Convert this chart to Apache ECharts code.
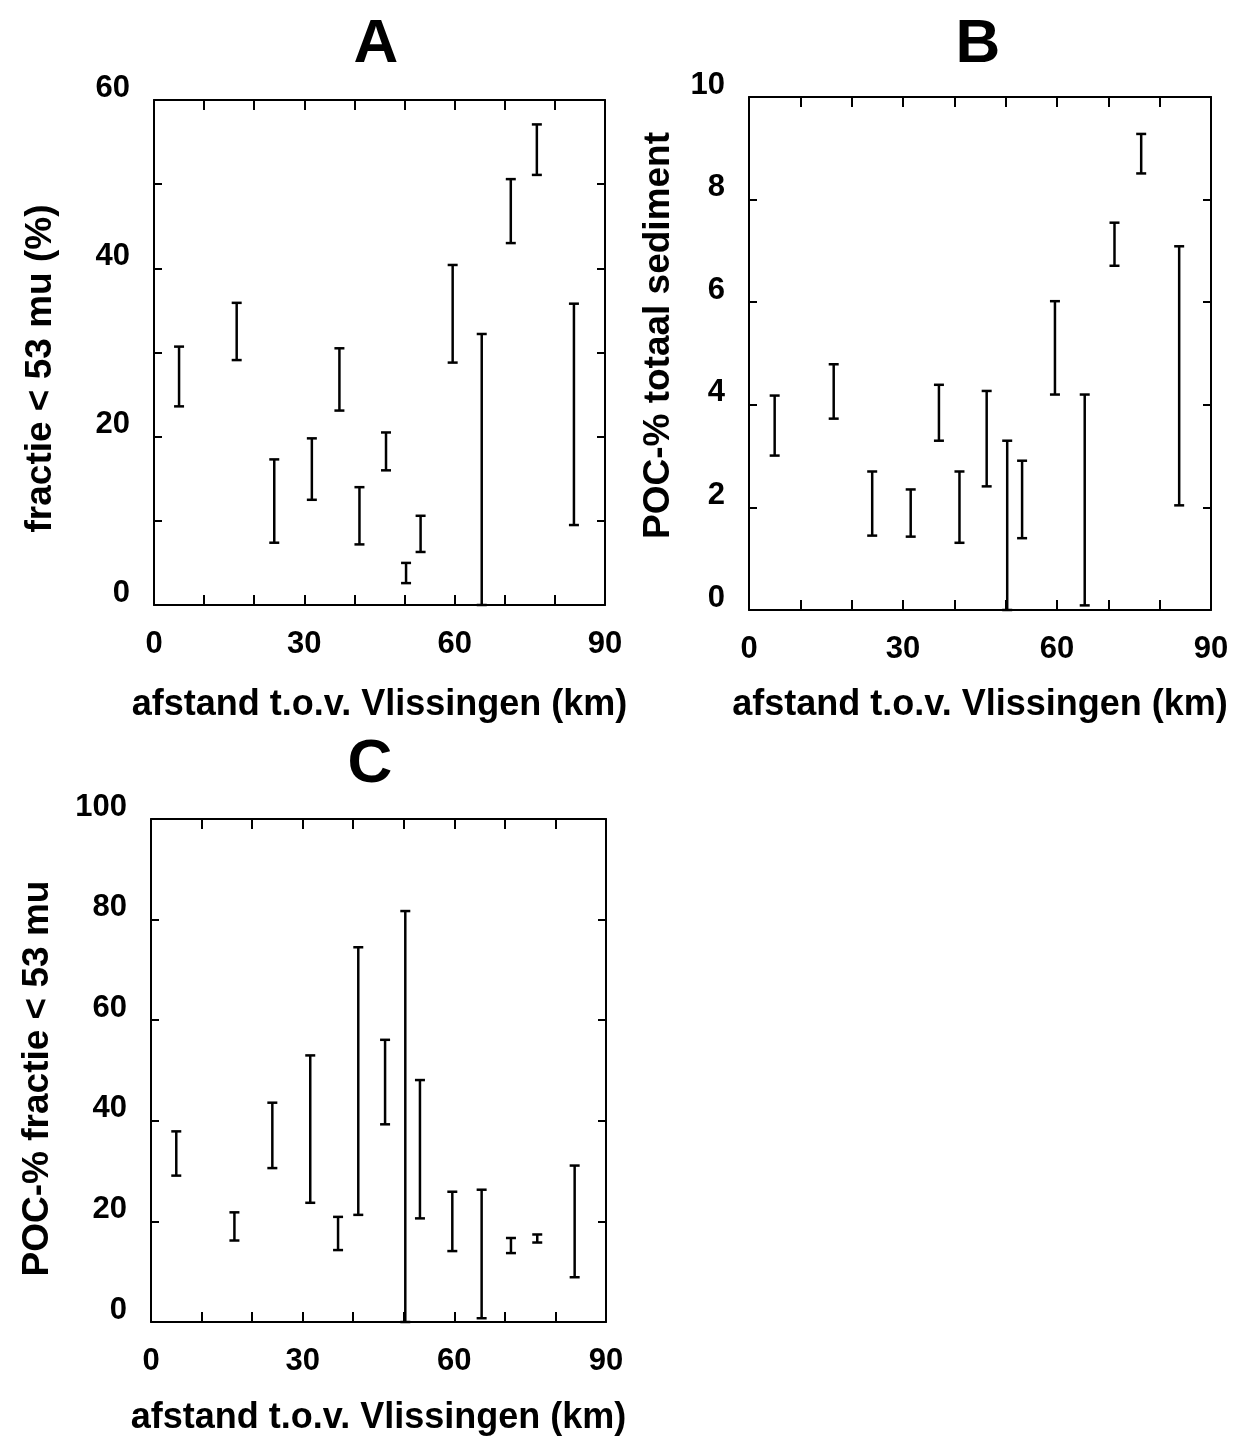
<!DOCTYPE html>
<html>
<head>
<meta charset="utf-8">
<title>Slib en POC Westerschelde</title>
<script src="https://cdn.jsdelivr.net/npm/echarts@6/dist/echarts.min.js"></script>
<style>
  html, body { margin: 0; padding: 0; background: #fff; }
  #chart { width: 1240px; height: 1437px; }
</style>
</head>
<body>
<div id="chart"></div>
<script>
// afstand van elk station t.o.v. Vlissingen (km)
const afstand = [5, 16.5, 24, 31.5, 37, 41, 46.3, 50.3, 53.2, 59.6, 65.4, 71.2, 76.4, 83.8];

// A: fractie < 53 mu (%), onder- en bovengrens
const fractieLaag = [23.6, 29.1, 7.4, 12.5, 23.1, 7.2, 16.0, 2.6, 6.3, 28.8, 0, 43.0, 51.1, 9.5];
const fractieHoog = [30.7, 35.9, 17.3, 19.8, 30.5, 14.0, 20.5, 5.0, 10.6, 40.4, 32.2, 50.6, 57.1, 35.8];

// B: POC-% totaal sediment
const pocLaag = [3.01, 3.73, 1.45, 1.43, 3.30, 1.31, 2.41, 0, 1.40, 4.20, 0.09, 6.71, 8.51, 2.04];
const pocHoog = [4.18, 4.79, 2.70, 2.35, 4.39, 2.70, 4.27, 3.30, 2.91, 6.02, 4.20, 7.55, 9.28, 7.09];

// C: POC-% fractie < 53 mu
const fijnLaag = [29.1, 16.2, 30.6, 23.7, 14.3, 21.3, 39.3, 0, 20.6, 14.1, 0.75, 13.7, 15.8, 8.9];
const fijnHoog = [37.9, 21.8, 43.6, 53.0, 20.9, 74.5, 56.1, 81.7, 48.1, 25.9, 26.3, 16.7, 17.4, 31.1];

const xTicks = [0, 30, 60, 90];

const FONT = "'Liberation Sans', Arial, sans-serif";
const chart = echarts.init(document.getElementById('chart'), null, { renderer: 'canvas' });

function rows(lo, hi) {
  return afstand.map((x, i) => [x, lo[i], hi[i]]);
}

// verticale foutbalk met dwarsstreepjes
function errorBar(params, api) {
  const x = api.value(0);
  const lo = api.coord([x, api.value(1)]);
  const hi = api.coord([x, api.value(2)]);
  const w = 5;
  const style = { stroke: '#000', lineWidth: 2.5 };
  return {
    type: 'group',
    children: [
      { type: 'line', shape: { x1: lo[0], y1: lo[1], x2: hi[0], y2: hi[1] }, style: style },
      { type: 'line', shape: { x1: hi[0] - w, y1: hi[1], x2: hi[0] + w, y2: hi[1] }, style: style },
      { type: 'line', shape: { x1: lo[0] - w, y1: lo[1], x2: lo[0] + w, y2: lo[1] }, style: style }
    ]
  };
}

const lineStyle = { color: '#000', width: 2 };

function xAxes(grid, nameGap) {
  const base = {
    type: 'value', gridIndex: grid, min: 0, max: 90, interval: 10,
    axisLine: { show: true, onZero: false, lineStyle: lineStyle },
    axisTick: { show: true, inside: true, length: 10, lineStyle: lineStyle },
    splitLine: { show: false }
  };
  return [
    Object.assign({}, base, {
      position: 'bottom',
      name: 'afstand t.o.v. Vlissingen (km)',
      nameLocation: 'middle',
      nameGap: nameGap,
      nameTextStyle: { fontFamily: FONT, fontSize: 36, fontWeight: 'bold', color: '#000' },
      axisLabel: {
        margin: 24, fontFamily: FONT, fontSize: 31, fontWeight: 'bold', color: '#000',
        showMinLabel: true, showMaxLabel: true,
        formatter: v => (xTicks.indexOf(v) >= 0 ? String(v) : '')
      }
    }),
    Object.assign({}, base, { position: 'top', axisLabel: { show: false } })
  ];
}

function yAxes(grid, max, interval, labels, name, nameGap, namePad) {
  const base = {
    type: 'value', gridIndex: grid, min: 0, max: max, interval: interval,
    axisLine: { show: true, onZero: false, lineStyle: lineStyle },
    axisTick: { show: true, inside: true, length: 8, lineStyle: lineStyle },
    splitLine: { show: false }
  };
  return [
    Object.assign({}, base, {
      position: 'left',
      name: name,
      nameLocation: 'middle',
      nameGap: nameGap,
      nameRotate: 90,
      nameTextStyle: { fontFamily: FONT, fontSize: 37, fontWeight: 'bold', color: '#000', padding: namePad },
      axisLabel: {
        margin: 24, fontFamily: FONT, fontSize: 31, fontWeight: 'bold', color: '#000',
        verticalAlign: 'bottom', lineHeight: 24,
        showMinLabel: true, showMaxLabel: true,
        formatter: v => (labels.indexOf(v) >= 0 ? String(v) : '')
      }
    }),
    Object.assign({}, base, { position: 'right', axisLabel: { show: false } })
  ];
}

function panelTitle(text, x, y) {
  return {
    type: 'text', x: x, y: y,
    style: { text: text, font: 'bold 62px ' + FONT, fill: '#000', textAlign: 'center', textVerticalAlign: 'middle' }
  };
}

const option = {
  backgroundColor: '#ffffff',
  animation: false,
  grid: [
    { left: 154, top: 100, width: 451, height: 505 },
    { left: 749, top: 97, width: 462, height: 513 },
    { left: 151, top: 819, width: 455, height: 503 }
  ],
  xAxis: [].concat(xAxes(0, 82), xAxes(1, 77), xAxes(2, 78)),
  yAxis: [].concat(
    yAxes(0, 60, 10, [0, 20, 40, 60], 'fractie < 53 mu (%)', 95, [0, 32, 0, 0]),
    yAxes(1, 10, 2, [0, 2, 4, 6, 8, 10], 'POC-% totaal sediment', 72, [0, 0, 0, 36]),
    yAxes(2, 100, 20, [0, 20, 40, 60, 80, 100], 'POC-% fractie < 53 mu', 95, [0, 16, 0, 0])
  ),
  series: [
    { type: 'custom', xAxisIndex: 0, yAxisIndex: 0, renderItem: errorBar, encode: { x: 0, y: [1, 2] }, data: rows(fractieLaag, fractieHoog), clip: false },
    { type: 'custom', xAxisIndex: 2, yAxisIndex: 2, renderItem: errorBar, encode: { x: 0, y: [1, 2] }, data: rows(pocLaag, pocHoog), clip: false },
    { type: 'custom', xAxisIndex: 4, yAxisIndex: 4, renderItem: errorBar, encode: { x: 0, y: [1, 2] }, data: rows(fijnLaag, fijnHoog), clip: false }
  ],
  graphic: [
    panelTitle('A', 376, 45),
    panelTitle('B', 978, 45),
    panelTitle('C', 370, 765)
  ]
};

chart.setOption(option);
</script>
</body>
</html>
